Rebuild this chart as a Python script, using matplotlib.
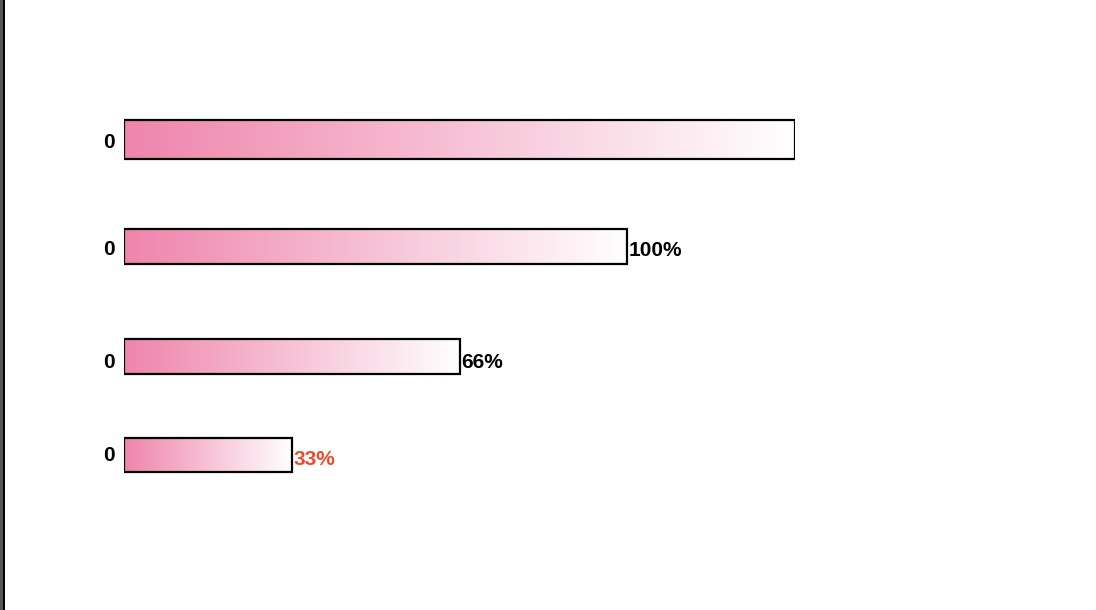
import numpy as np
import matplotlib
matplotlib.use("Agg")
import matplotlib.pyplot as plt
from matplotlib.patches import Rectangle
from matplotlib.colors import LinearSegmentedColormap

# Data
categories = ["0", "0", "0", "0"]
values = [4, 3, 2, 1]
value_labels = ["", "100%", "66%", "33%"]

# Layout (pixel-space vertical positions and bar thickness)
y_centers = [139.5, 246.5, 356.5, 454.5]
bar_heights = [39, 35, 35, 34]
left_label_y = [140, 247, 360, 453]
right_label_y = [140, 248, 360, 457]
label_colors = ["black", "black", "black", "#ef4a2a"]

W, H = 1096, 610
fig = plt.figure(figsize=(W / 100, H / 100), dpi=100)
fig.patch.set_facecolor("white")

left_px, right_px = 124, 795
ax = fig.add_axes([left_px / W, 0, (right_px - left_px) / W, 1])
ax.set_xlim(0, max(values))
ax.set_ylim(H, 0)
ax.axis("off")

cmap = LinearSegmentedColormap.from_list("pinkfade", ["#ef85ac", "#ffffff"])
grad = np.linspace(0, 1, 256).reshape(1, -1)

for i, (cat, v, lab, yc, h, lc) in enumerate(zip(categories, values, value_labels,
                                                  y_centers, bar_heights, label_colors)):
    y0 = yc - h / 2
    im = ax.imshow(grad, cmap=cmap, aspect="auto", extent=[0, v, y0 + h, y0],
                   interpolation="bilinear", zorder=1)
    rect = Rectangle((0, y0), v, h, facecolor="none", edgecolor="black",
                     linewidth=1.6, zorder=2)
    ax.add_patch(rect)
    im.set_clip_path(rect)
    ax.annotate(cat, xy=(0, left_label_y[i]), xytext=(-6.5, -1.5), textcoords="offset points",
                ha="right", va="center", fontsize=15, fontweight="bold",
                family="Liberation Sans", color="black", annotation_clip=False)
    if lab:
        ax.annotate(lab, xy=(v, right_label_y[i]), xytext=(1.2, -1.5), textcoords="offset points",
                    ha="left", va="center", fontsize=15, fontweight="bold",
                    family="Liberation Sans", color=lc, annotation_clip=False)

ax.set_xlim(0, max(values))
ax.set_ylim(H, 0)

# left border strips
fig.add_artist(Rectangle((0, 0), 2.5 / W, 1, transform=fig.transFigure,
                         facecolor="#555555", edgecolor="none"))
fig.add_artist(Rectangle((2.5 / W, 0), 2.0 / W, 1, transform=fig.transFigure,
                         facecolor="black", edgecolor="none"))

fig.savefig("out.png", dpi=100, facecolor="white")
